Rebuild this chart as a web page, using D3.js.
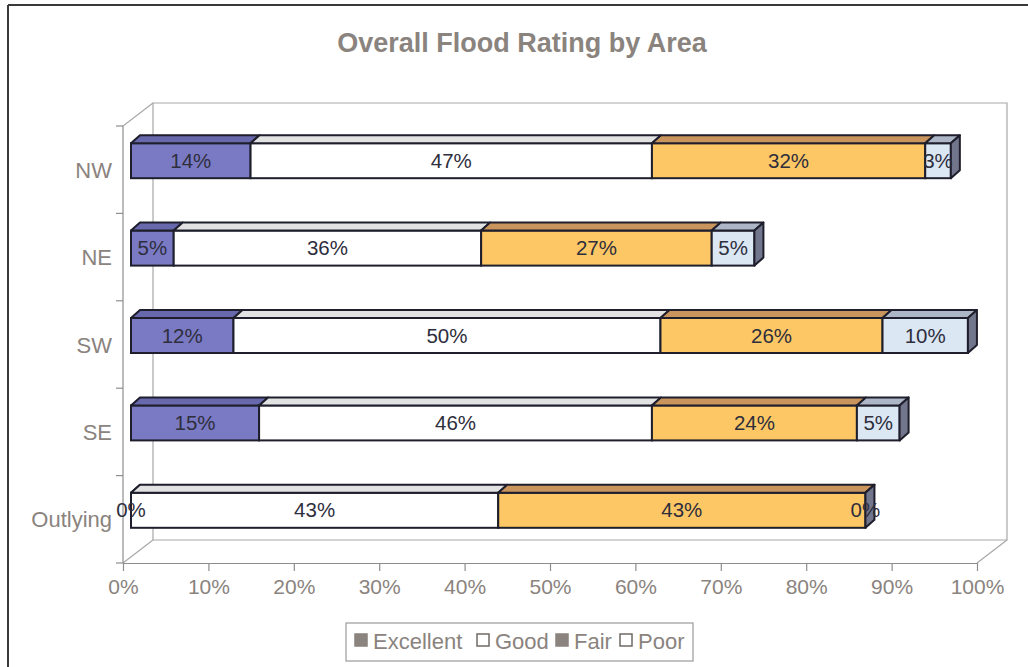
<!DOCTYPE html>
<html>
<head>
<meta charset="utf-8">
<script src="https://cdn.jsdelivr.net/npm/d3@7"></script>
<style>
  html, body { margin: 0; padding: 0; background: #fff; }
  svg { display: block; font-family: "Liberation Sans", Arial, sans-serif; }
</style>
</head>
<body>
<svg id="chart" width="1028" height="667"></svg>
<script>
// Areas (top to bottom) and rating shares in percent
const areas = ["NW", "NE", "SW", "SE", "Outlying"];
const ratings = ["Excellent", "Good", "Fair", "Poor"];
const excellent = [14, 5, 12, 15, 0];
const good      = [47, 36, 50, 46, 43];
const fair      = [32, 27, 26, 24, 43];
const poor      = [3, 5, 10, 5, 0];
const xTicks = [0, 10, 20, 30, 40, 50, 60, 70, 80, 90, 100];

const seriesValues = [excellent, good, fair, poor];

// Face colours for each rating: front, top, side
const faces = {
  Excellent: { front: "#7a7ac4", top: "#6868ac", side: "#55558f" },
  Good:      { front: "#ffffff", top: "#e2e2e2", side: "#c8c8c8" },
  Fair:      { front: "#fcc764", top: "#c9955c", side: "#a97a45" },
  Poor:      { front: "#dbe7f3", top: "#adb6c6", side: "#72768c" }
};

const svg = d3.select("#chart");
const textGray = "#8a837e";

// Outer frame (top and left edges)
svg.append("line").attr("x1", 8).attr("y1", 5).attr("x2", 1028).attr("y2", 5)
  .attr("stroke", "#3a3a3a").attr("stroke-width", 2);
svg.append("line").attr("x1", 8).attr("y1", 5).attr("x2", 8).attr("y2", 667)
  .attr("stroke", "#3a3a3a").attr("stroke-width", 2);

// Title
svg.append("text")
  .attr("x", 522).attr("y", 52)
  .attr("text-anchor", "middle")
  .attr("font-size", 27).attr("font-weight", "bold")
  .attr("fill", textGray)
  .text("Overall Flood Rating by Area");

// Plot geometry
const x = d3.scaleLinear().domain([0, 100]).range([123, 977]);
const y = d3.scaleBand().domain(areas).range([126, 563]).padding(0);
const depth = { dx: 30, dy: -23 };        // wall / floor depth
const barShift = { dx: 8, dy: -9 };       // bar front plane relative to axis plane
const barDepth = { dx: 9, dy: -8 };       // bar thickness
const barH = 35;

const wallColor = "#a8a8a8";
const axisColor = "#8e8e8e";

// Back wall and floor outline
const x0 = x(0), x1 = x(100), yT = y.range()[0], yB = y.range()[1];
const g = svg.append("g").attr("fill", "none").attr("stroke", wallColor).attr("stroke-width", 1.2);
g.append("path").attr("d",
  `M${x0 + depth.dx},${yB + depth.dy}V${yT + depth.dy}H${x1 + depth.dx}V${yB + depth.dy}Z`);
g.append("path").attr("d",
  `M${x0},${yT}L${x0 + depth.dx},${yT + depth.dy}` +
  `M${x0},${yB}L${x0 + depth.dx},${yB + depth.dy}` +
  `M${x1},${yB}L${x1 + depth.dx},${yB + depth.dy}`);

// Left (category) axis line and boundary ticks
const boundaries = areas.map(a => y(a)).concat([yB]);
svg.append("line").attr("x1", x0).attr("x2", x0).attr("y1", yT).attr("y2", yB)
  .attr("stroke", axisColor).attr("stroke-width", 1.2);
svg.selectAll(".ytick").data(boundaries).enter().append("line")
  .attr("x1", x0 - 7).attr("x2", x0).attr("y1", d => d).attr("y2", d => d)
  .attr("stroke", axisColor).attr("stroke-width", 1.2);
svg.selectAll(".ylab").data(areas).enter().append("text")
  .attr("x", 112).attr("y", d => y(d) + y.bandwidth() / 2 + 8)
  .attr("text-anchor", "end").attr("font-size", 22).attr("fill", textGray)
  .text(d => d);

// Bottom (value) axis
const xAxis = d3.axisBottom(x).tickValues(xTicks).tickFormat(d => d + "%")
  .tickSize(8).tickSizeOuter(0).tickPadding(8);
const ax = svg.append("g").attr("transform", `translate(0,${yB})`).call(xAxis);
ax.select(".domain").attr("stroke", axisColor).attr("stroke-width", 1.2);
ax.selectAll(".tick line").attr("stroke", axisColor).attr("stroke-width", 1.2);
ax.selectAll(".tick text").attr("font-size", 21).attr("fill", textGray)
  .attr("font-family", "'Liberation Sans', Arial, sans-serif");

// Stacked 3D bars
const outline = "#1e1e2c";
const bx = v => x(v) + barShift.dx;

areas.forEach((area, i) => {
  const cy = y(area) + y.bandwidth() / 2 + barShift.dy;
  const top = cy - barH / 2, bot = cy + barH / 2;
  const row = svg.append("g");
  let acc = 0;
  const segs = ratings.map((r, k) => {
    const v = seriesValues[k][i];
    const s = { rating: r, start: acc, end: acc + v, value: v };
    acc += v;
    return s;
  });

  segs.forEach(s => {
    const xa = bx(s.start), xb = bx(s.end);
    // front face
    row.append("rect")
      .attr("x", xa).attr("y", top).attr("width", xb - xa).attr("height", barH)
      .attr("fill", faces[s.rating].front).attr("stroke", outline).attr("stroke-width", 2);
    // top face
    row.append("path")
      .attr("d", `M${xa},${top}L${xa + barDepth.dx},${top + barDepth.dy}` +
                 `L${xb + barDepth.dx},${top + barDepth.dy}L${xb},${top}Z`)
      .attr("fill", faces[s.rating].top).attr("stroke", outline).attr("stroke-width", 2)
      .attr("stroke-linejoin", "round");
  });

  // right end face
  const xe = bx(acc);
  row.append("path")
    .attr("d", `M${xe},${top}L${xe + barDepth.dx},${top + barDepth.dy}` +
               `L${xe + barDepth.dx},${bot + barDepth.dy}L${xe},${bot}Z`)
    .attr("fill", faces.Poor.side).attr("stroke", outline).attr("stroke-width", 2)
    .attr("stroke-linejoin", "round");

  // value labels
  segs.forEach(s => {
    row.append("text")
      .attr("x", (bx(s.start) + bx(s.end)) / 2).attr("y", cy + 7)
      .attr("text-anchor", "middle").attr("font-size", 20.5).attr("fill", "#2e2e3c")
      .text(s.value + "%");
  });
});

// Legend
const legend = svg.append("g");
legend.append("rect").attr("x", 346).attr("y", 623).attr("width", 347).attr("height", 38)
  .attr("fill", "#fff").attr("stroke", "#9a9a9a").attr("stroke-width", 1.2);
const legendItems = [
  { name: "Excellent", filled: true,  sx: 355, tx: 373 },
  { name: "Good",      filled: false, sx: 477, tx: 495 },
  { name: "Fair",      filled: true,  sx: 556, tx: 574 },
  { name: "Poor",      filled: false, sx: 620, tx: 638 }
];
legendItems.forEach(it => {
  legend.append("rect").attr("x", it.sx).attr("y", 634).attr("width", 12).attr("height", 12)
    .attr("fill", it.filled ? textGray : "#fff")
    .attr("stroke", it.filled ? textGray : "#6f6a66").attr("stroke-width", 1.5);
  legend.append("text").attr("x", it.tx).attr("y", 649)
    .attr("font-size", 22).attr("fill", textGray).text(it.name);
});
</script>
</body>
</html>
